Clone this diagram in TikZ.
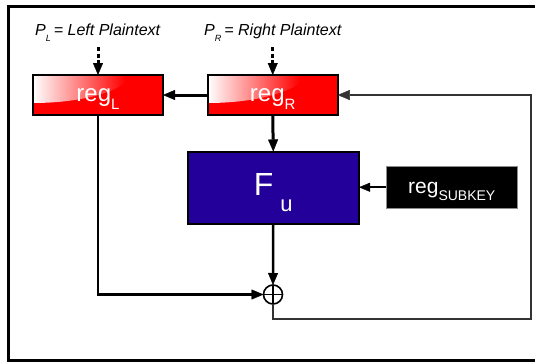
\documentclass[tikz,border=0pt]{standalone}
\usepackage{fontspec}
\setmainfont{Liberation Sans}
\usetikzlibrary{arrows.meta}
\definecolor{fblue}{RGB}{34,0,153}
\definecolor{regred}{RGB}{255,0,0}
\begin{document}
\begin{tikzpicture}[x=1pt,y=-1pt,
  regbox/.style={draw=black,line width=2pt,fill=regred,minimum width=130pt,minimum height=40pt,
    inner sep=0pt,outer sep=0pt,text=white,text height=0pt,text depth=0pt,
    font=\fontsize{24}{24}\selectfont,
    path picture={\begin{scope}
      \clip ([shift={(0,-5)}]path picture bounding box.north west) ellipse (100 and 33);
      \shade[left color=white,right color=regred]
        (path picture bounding box.north west) rectangle ([shift={(92,0)}]path picture bounding box.south west);
      \end{scope}}},
  fubox/.style={draw=black,line width=2pt,fill=fblue,minimum width=171.5pt,minimum height=72.5pt,
    inner sep=0pt,outer sep=0pt,text=white,text height=0pt,text depth=0pt,
    font=\fontsize{32}{32}\selectfont},
  keybox/.style={draw=black!45,line width=1pt,fill=black,minimum width=131.5pt,minimum height=42.5pt,
    inner sep=0pt,outer sep=0pt,text=white,text height=0pt,text depth=0pt,
    font=\fontsize{21}{21}\selectfont},
  xorc/.style={circle,draw=black,line width=1.6pt,minimum size=19pt,inner sep=0pt,outer sep=0pt},
  lbl/.style={font=\fontsize{16}{16}\selectfont\itshape,inner sep=0pt,anchor=base west},
  tip/.style={-{Triangle[length=12pt,width=10pt,line width=0.4pt]}},
  thickarr/.style={line width=3pt,tip},
  arr/.style={line width=2.5pt,tip},
  smallarr/.style={line width=2pt,-{Triangle[length=11pt,width=9pt,line width=0.4pt]}},
  dasharr/.style={line width=3pt,dash pattern=on 4pt off 2.5pt,tip},
  loopline/.style={line width=2pt,draw=black!80},
  frameline/.style={line width=3pt,draw=black},
]
\useasboundingbox (0,0) rectangle (535,362);
\clip (0,0) rectangle (535,362);
\fill[white] (0,0) rectangle (535,362);
% frame
\draw[frameline] (545,6.5) -- (8.5,6.5) -- (8.5,360.5) -- (545,360.5);

% labels
\node[lbl] (pl) at (35,35) {P\raisebox{-6.5pt}{\fontsize{9}{9}\selectfont L}\kern3pt= Left Plaintext};
\node[lbl] (pr) at (204,35) {P\raisebox{-6.5pt}{\fontsize{9}{9}\selectfont R}\kern3pt= Right Plaintext};

% boxes
\node[regbox] (regL) at (98,95) {\raisebox{-6pt}{reg\raisebox{-8pt}{\fontsize{15}{15}\selectfont L}}};
\node[regbox] (regR) at (272.75,95) {\raisebox{-6pt}{reg\raisebox{-8pt}{\fontsize{15}{15}\selectfont R}}};
\node[fubox] (Fu) at (273.25,187.75) {\raisebox{-8pt}{F\kern7pt\raisebox{-16pt}{\fontsize{22}{22}\selectfont u}}};
\node[keybox] (sub) at (451.75,187.25) {\raisebox{-6pt}{reg\raisebox{-7pt}{\fontsize{14}{14}\selectfont SUBKEY}}};
\node[xorc] (xor) at (273,294.5) {};
\draw[line width=1.6pt] (xor.north) -- (xor.south);
\draw[line width=1.6pt] (xor.west) -- (xor.east);

% coordinates
\coordinate (dL) at (98,47);
\coordinate (dR) at (272.75,47);
\coordinate (lb) at (531,319);
\coordinate (lt) at (531,95);

% connectors
\draw[dasharr] (dL) -- (regL.north);
\draw[dasharr] (dR) -- (regR.north);
\draw[thickarr] (regR.west) -- (regL.east);
\draw[thickarr] (regR.south) -- (Fu.north);
\draw[smallarr] (sub.west) -- (sub.west -| Fu.east);
\draw[arr] (regL.south) |- (xor.west);
\draw[arr] (Fu.south) -- (xor.north);
\draw[loopline,tip] (xor.south) |- (lb) -- (lt) -- (regR.east);
\end{tikzpicture}
\end{document}
